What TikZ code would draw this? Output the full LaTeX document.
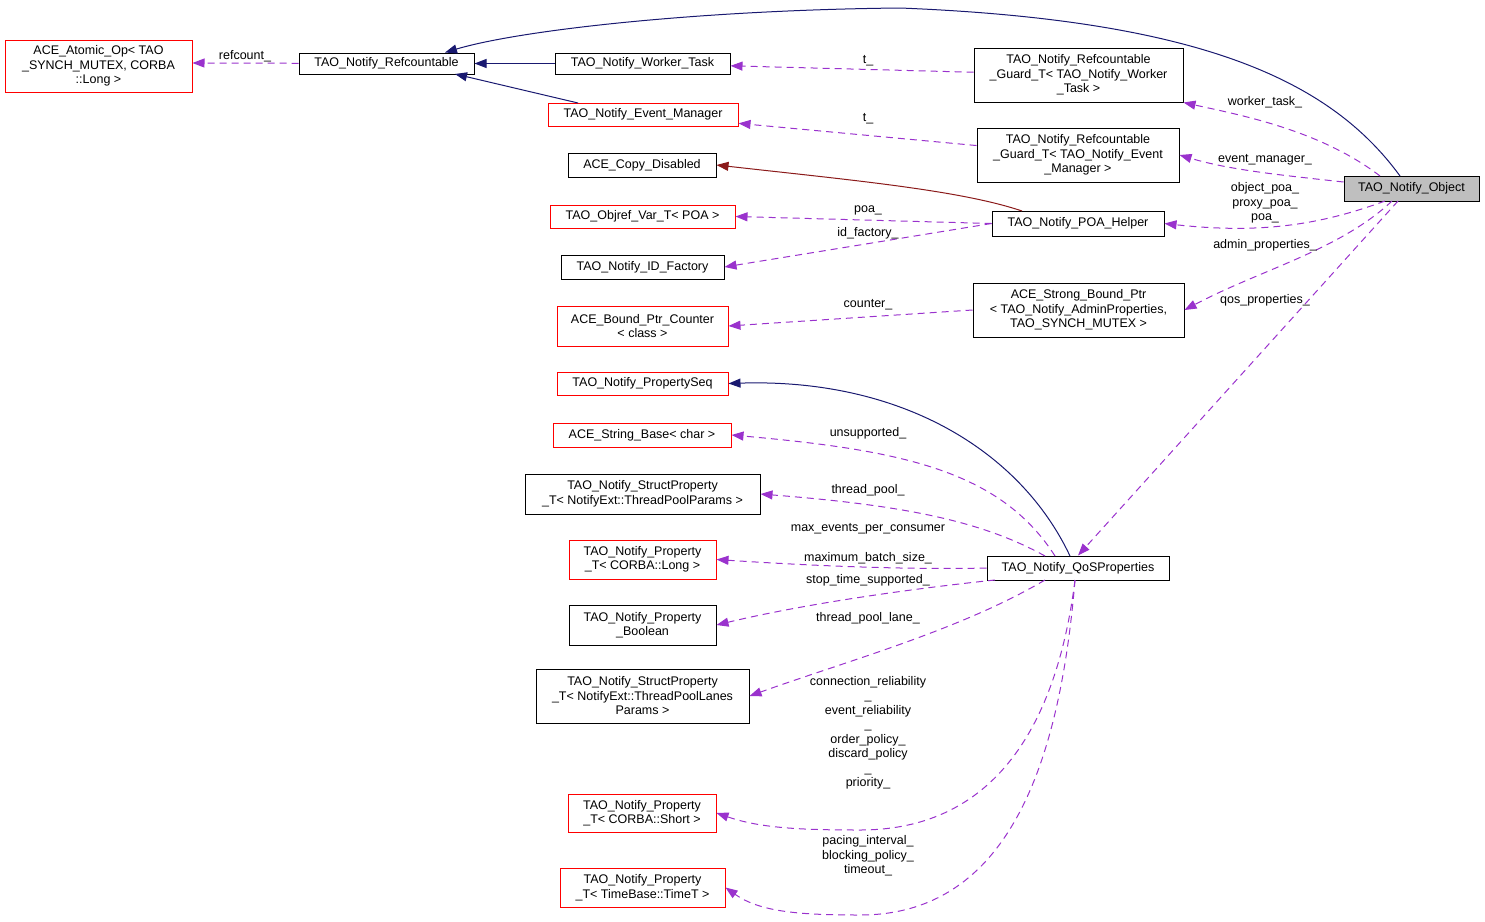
\documentclass[tikz,border=0pt]{standalone}
\usepackage{fontspec}
\setmainfont{Liberation Sans}
\usetikzlibrary{arrows.meta}
\definecolor{navyedge}{RGB}{25,25,112}
\definecolor{useedge}{RGB}{154,50,205}
\definecolor{privedge}{RGB}{139,26,26}
\tikzset{
	cls/.style={rectangle, draw=black, fill=white, align=center, inner sep=1pt, line width=1pt, font=\fontsize{12.5}{14.5}\selectfont},
	redcls/.style={cls, draw=red},
	usage/.style={-{Triangle[length=12pt,width=9pt,fill=useedge]}, line width=1pt, dash pattern=on 7pt off 5pt, draw=useedge},
	inherit/.style={-{Triangle[length=12pt,width=9pt,fill=navyedge]}, line width=1pt, draw=navyedge},
	privinh/.style={-{Triangle[length=12pt,width=9pt,fill=privedge]}, line width=1pt, draw=privedge},
	lbl/.style={align=center, inner sep=0pt, font=\fontsize{12.5}{14.5}\selectfont}
}
\begin{document}
\begin{tikzpicture}[x=1pt,y=-1pt]
\useasboundingbox (0,0) rectangle (1485,921);
% classes
\node [redcls, minimum width=187, minimum height=52] (atomic) at (98.5,66) {ACE\_Atomic\_Op< TAO\\\_SYNCH\_MUTEX, CORBA\\::Long >};
\node [cls, minimum width=175, minimum height=21] (refc) at (386.5,63.5) {TAO\_Notify\_Refcountable};
\node [cls, minimum width=175, minimum height=21] (worker) at (642.5,63.5) {TAO\_Notify\_Worker\_Task};
\node [redcls, minimum width=190, minimum height=23] (evman) at (643,114.5) {TAO\_Notify\_Event\_Manager};
\node [cls, minimum width=148, minimum height=24] (copy) at (642,165) {ACE\_Copy\_Disabled};
\node [redcls, minimum width=185, minimum height=23] (objref) at (642.5,216.5) {TAO\_Objref\_Var\_T< POA >};
\node [cls, minimum width=163, minimum height=24] (idfac) at (642.5,267) {TAO\_Notify\_ID\_Factory};
\node [redcls, minimum width=171, minimum height=40] (bpc) at (642.5,326) {ACE\_Bound\_Ptr\_Counter\\< class >};
\node [redcls, minimum width=171, minimum height=23] (pseq) at (642.5,383.5) {TAO\_Notify\_PropertySeq};
\node [redcls, minimum width=178, minimum height=24] (strb) at (642,435) {ACE\_String\_Base< char >};
\node [cls, minimum width=235, minimum height=40] (tpp) at (642.5,494) {TAO\_Notify\_StructProperty\\\_T< NotifyExt::ThreadPoolParams >};
\node [redcls, minimum width=147, minimum height=39] (plong) at (642.5,559.5) {TAO\_Notify\_Property\\\_T< CORBA::Long >};
\node [cls, minimum width=147, minimum height=40] (pbool) at (642.5,625) {TAO\_Notify\_Property\\\_Boolean};
\node [cls, minimum width=213, minimum height=54] (tpl) at (642.5,696) {TAO\_Notify\_StructProperty\\\_T< NotifyExt::ThreadPoolLanes\\Params >};
\node [redcls, minimum width=148, minimum height=38] (pshort) at (642,813) {TAO\_Notify\_Property\\\_T< CORBA::Short >};
\node [redcls, minimum width=165, minimum height=39] (ptime) at (642.5,887.5) {TAO\_Notify\_Property\\\_T< TimeBase::TimeT >};
\node [cls, minimum width=209, minimum height=54] (gwork) at (1078.5,75) {TAO\_Notify\_Refcountable\\\_Guard\_T< TAO\_Notify\_Worker\\\_Task >};
\node [cls, minimum width=202, minimum height=54] (gev) at (1078,155) {TAO\_Notify\_Refcountable\\\_Guard\_T< TAO\_Notify\_Event\\\_Manager >};
\node [cls, minimum width=172, minimum height=25] (poah) at (1078,223.5) {TAO\_Notify\_POA\_Helper};
\node [cls, minimum width=211, minimum height=54] (sbp) at (1078.5,310) {ACE\_Strong\_Bound\_Ptr\\< TAO\_Notify\_AdminProperties,\\TAO\_SYNCH\_MUTEX >};
\node [cls, minimum width=182, minimum height=24] (qos) at (1078,568) {TAO\_Notify\_QoSProperties};
\node [cls, fill=black!25, minimum width=135, minimum height=25] (obj) at (1411.5,188.5) {TAO\_Notify\_Object};
% inheritance
\draw [inherit] (1400,176) .. controls (1330,80) and (1200,20) .. (900,8) .. controls (700,10) and (520,30) .. (refc.north east -| 445,0);
\draw [inherit] (worker) -- (refc);
\draw [inherit] (578,103) -- (455,74);
\draw [privinh] (1022,211) .. controls (960,190) and (850,180) .. (copy.east);
\draw [inherit] (1070,556) .. controls (1020,450) and (900,378) .. (pseq.east);
% usage
\draw [usage] (refc) -- (atomic.east |- 0,63);
\node [lbl] (l_ref) at (245,56) {refcount\_};
\draw [usage] (gwork) -- (worker);
\node [lbl] (l_t1) at (868,61) {t\_};
\draw [usage] (gev) -- (evman);
\node [lbl] (l_t2) at (868,119) {t\_};
\draw [usage] (1380,176) .. controls (1320,130) and (1240,115) .. (gwork.south east);
\node [lbl] (l_wt) at (1265,102) {worker\_task\_};
\draw [usage] (obj.west |- 0,182) .. controls (1280,175) and (1230,170) .. (gev.east);
\node [lbl] (l_em) at (1265,160) {event\_manager\_};
\draw [usage] (1385,201) .. controls (1320,225) and (1260,234) .. (poah.east);
\node [lbl] (l_poa) at (1265,203) {object\_poa\_\\proxy\_poa\_\\poa\_};
\draw [usage] (1392,201) .. controls (1340,250) and (1260,270) .. (sbp.east);
\node [lbl] (l_ap) at (1265,245) {admin\_properties\_};
\draw [usage] (1398,201) -- (qos.north);
\node [lbl] (l_qp) at (1265,300) {qos\_properties\_};
\draw [usage] (poah.west) -- (objref.east);
\node [lbl] (l_poa2) at (868,210) {poa\_};
\draw [usage] (poah.west) -- (idfac.east);
\node [lbl] (l_id) at (868,233) {id\_factory\_};
\draw [usage] (sbp.west) -- (bpc.east);
\node [lbl] (l_cnt) at (868,305) {counter\_};
\draw [usage] (1055,556) .. controls (1000,470) and (900,450) .. (strb.east);
\node [lbl] (l_uns) at (868,433) {unsupported\_};
\draw [usage] (1045,556) .. controls (980,520) and (900,505) .. (tpp.east);
\node [lbl] (l_tp) at (868,490) {thread\_pool\_};
\draw [usage] (qos.west) .. controls (900,570) and (800,565) .. (plong.east);
\node [lbl] (l_max) at (868,529) {max\_events\_per\_consumer};
\node [lbl] (l_mbs) at (868,558) {maximum\_batch\_size\_};
\draw [usage] (995,580) .. controls (900,590) and (800,605) .. (pbool.east);
\node [lbl] (l_stop) at (868,580) {stop\_time\_supported\_};
\draw [usage] (1045,580) .. controls (960,630) and (850,660) .. (tpl.east);
\node [lbl] (l_tpl) at (868,618) {thread\_pool\_lane\_};
\draw [usage] (1075,580) .. controls (1060,700) and (1010,830) .. (860,830) .. controls (800,830) and (760,828) .. (pshort.east);
\node [lbl] (l_rel) at (868,733) {connection\_reliability\\\_\\event\_reliability\\\_\\order\_policy\_\\discard\_policy\\\_\\priority\_};
\draw [usage] (1075,580) .. controls (1060,760) and (1010,915) .. (860,915) .. controls (800,915) and (760,912) .. (ptime.east);
\node [lbl] (l_pace) at (868,856) {pacing\_interval\_\\blocking\_policy\_\\timeout\_};
\end{tikzpicture}
\end{document}
